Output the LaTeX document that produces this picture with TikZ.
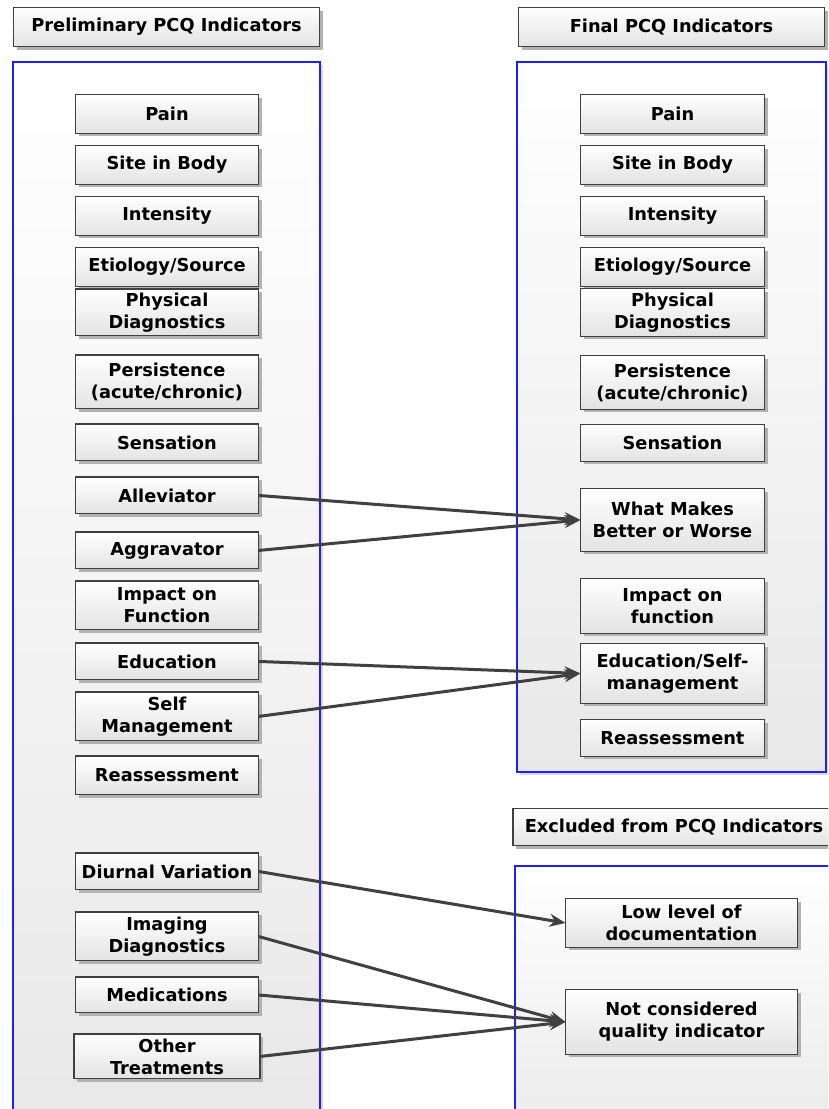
\documentclass[tikz,border=0pt]{standalone}
\usepackage{fontspec}
\setmainfont{DejaVu Sans}
\usetikzlibrary{arrows.meta,positioning,shadows}
\definecolor{panelblue}{RGB}{30,30,255}
\definecolor{arrowgray}{RGB}{64,64,64}

\begin{document}
\begin{tikzpicture}[x=1pt, y=-1pt,
  item/.style={draw=black!75, line width=1.3pt, top color=white, bottom color=black!11, align=center, outer sep=0pt,
    minimum width=183pt, minimum height=36.7pt, inner sep=3pt, font=\fontsize{17.8}{22}\selectfont\bfseries,
    drop shadow={shadow xshift=3pt, shadow yshift=-3pt, fill=black!30, opacity=1}},
  short/.style={minimum height=38.7pt},
  tall/.style={minimum height=48.7pt},
  head/.style={item, minimum width=306pt, minimum height=39pt},
  panel/.style={draw=panelblue, line width=1.7pt, top color=white, bottom color=black!9, anchor=north west,
    inner sep=0pt, outer sep=0pt, drop shadow={shadow xshift=3pt, shadow yshift=-3pt, fill=black!15, opacity=1}},
  arr/.style={-{Stealth[length=16pt, width=13pt]}, line width=3pt, draw=arrowgray}]
  \clip (0,0) rectangle (828,1109);
  % panels and headers
  \node[panel, minimum width=307pt, minimum height=1080pt] (prelimpanel) at (13,62) {};
  \node[panel, minimum width=309pt, minimum height=710pt] (finalpanel) at (517,62) {};
  \node[panel, minimum width=330pt, minimum height=300pt] (exclpanel) at (515,866) {};
  \node[head] (prelimhead) at (166.5,27) {Preliminary PCQ Indicators};
  \node[head] (finalhead) at (671.5,27) {Final PCQ Indicators};
  \node[head, anchor=west, minimum width=322pt, minimum height=37pt] (exclhead) at (513,827) {Excluded from PCQ Indicators};
  % preliminary indicators
  \node[item, short, anchor=north] (pain) at (167,94.6) {Pain};
  \node[item, short, below=12.3pt of pain] (site) {Site in Body};
  \node[item, short, below=12.3pt of site] (intens) {Intensity};
  \node[item, short, below=12.3pt of intens] (etio) {Etiology/Source};
  \node[item, minimum height=46.7pt, below=2.8pt of etio] (phys) {Physical\\Diagnostics};
  \node[item, minimum height=53.7pt, below=19.3pt of phys] (persist) {Persistence\\(acute/chronic)};
  \node[item, below=15.3pt of persist] (sens) {Sensation};
  \node[item, below=16.3pt of sens] (allev) {Alleviator};
  \node[item, below=18.3pt of allev] (aggr) {Aggravator};
  \node[item, tall, below=12.3pt of aggr] (impact) {Impact on\\Function};
  \node[item, below=13.3pt of impact] (educ) {Education};
  \node[item, tall, below=12.3pt of educ] (selfm) {Self\\Management};
  \node[item, short, below=15.3pt of selfm] (reass) {Reassessment};
  \node[item, below=58.3pt of reass] (diurnal) {Diurnal Variation};
  \node[item, tall, below=22.3pt of diurnal] (imaging) {Imaging\\Diagnostics};
  \node[item, minimum height=35.7pt, below=16.3pt of imaging] (meds) {Medications};
  \node[item, minimum height=44.7pt, minimum width=186pt, below=21.3pt of meds] (other) {Other\\Treatments};
  % final indicators
  \node[item, short, minimum width=184pt, anchor=north] (rpain) at (672.5,94.6) {Pain};
  \node[item, short, minimum width=184pt, below=12.3pt of rpain] (rsite) {Site in Body};
  \node[item, short, minimum width=184pt, below=12.3pt of rsite] (rintens) {Intensity};
  \node[item, short, minimum width=184pt, below=12.3pt of rintens] (retio) {Etiology/Source};
  \node[item, minimum height=47.7pt, minimum width=184pt, below=2.3pt of retio] (rphys) {Physical\\Diagnostics};
  \node[item, minimum height=53.7pt, minimum width=184pt, below=19.3pt of rphys] (rpersist) {Persistence\\(acute/chronic)};
  \node[item, minimum width=184pt, below=15.3pt of rpersist] (rsens) {Sensation};
  \node[item, minimum height=62.7pt, minimum width=184pt, below=27.3pt of rsens] (better) {What Makes\\Better or Worse};
  \node[item, minimum height=54.7pt, minimum width=184pt, below=27.3pt of better] (rimpact) {Impact on\\function};
  \node[item, minimum height=59.7pt, minimum width=184pt, below=10.3pt of rimpact] (educself) {Education/Self-\\management};
  \node[item, minimum width=184pt, below=16.3pt of educself] (rreass) {Reassessment};
  % excluded
  \node[item, tall, minimum width=232pt, anchor=north] (lowdoc) at (681.5,898.6) {Low level of\\documentation};
  \node[item, minimum height=64.7pt, minimum width=232pt, below=42.3pt of lowdoc] (notqual) {Not considered\\quality indicator};
  % connectors
  \draw[arr] (allev.east) -- (better.west);
  \draw[arr] (aggr.east) -- (better.west);
  \draw[arr] (educ.east) -- (educself.west);
  \draw[arr] (selfm.east) -- (educself.west);
  \draw[arr] (diurnal.east) -- (lowdoc.west);
  \draw[arr] (imaging.east) -- (notqual.west);
  \draw[arr] (meds.east) -- (notqual.west);
  \draw[arr] (other.east) -- (notqual.west);
\end{tikzpicture}
\end{document}
